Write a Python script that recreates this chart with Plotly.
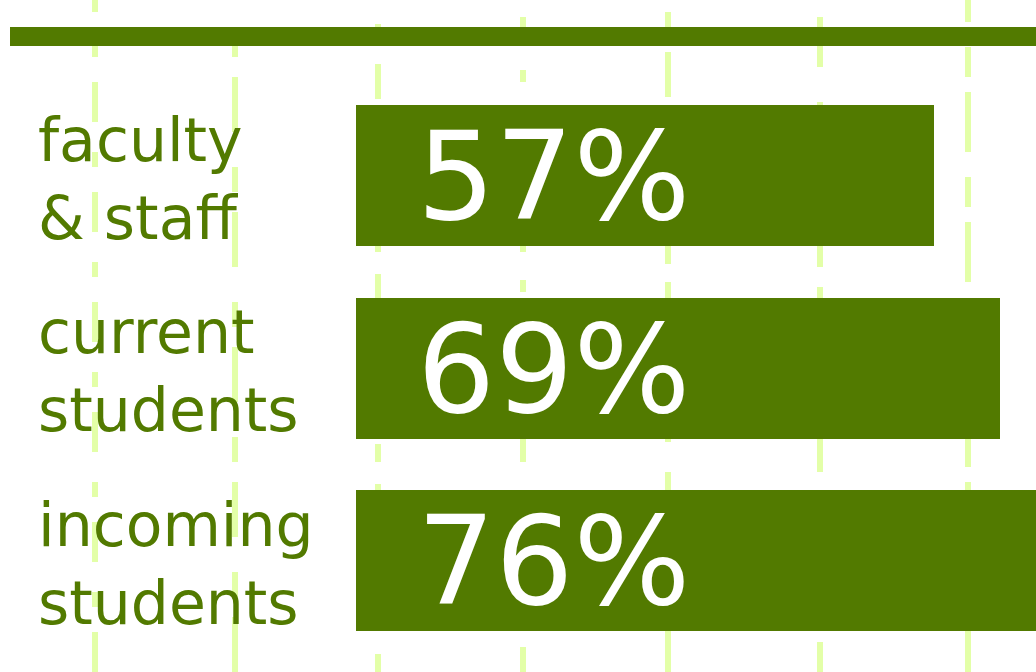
import plotly.graph_objects as go

# ---- data ----
groups = ["faculty<br>& staff", "current<br>students", "incoming<br>students"]
values = [57, 69, 76]
value_labels = ["57%", "69%", "76%"]

# ---- style ----
GREEN = "#527a00"
LIGHT = "#e3ffa8"
FONT = "DejaVu Sans"
W, H = 1036, 672
BASE = -48.1
pos = list(range(len(groups)))

fig = go.Figure()

fig.add_trace(go.Bar(
    y=pos,
    x=[v - BASE for v in values],
    base=BASE,
    orientation="h",
    width=0.7325,
    marker=dict(color=GREEN, line=dict(width=0)),
    hoverinfo="skip",
))

# decorative light-green streaks in the background
streak_x = [95, 235, 378, 523, 668, 820, 968]
patterns = ["40px,25px,15px,30px", "55px,20px,25px,35px", "18px,30px,35px,22px",
            "25px,40px,12px,28px", "45px,18px,22px,30px", "30px,35px,50px,20px",
            "60px,15px,30px,25px"]
shapes = []
for sx, pat in zip(streak_x, patterns):
    shapes.append(dict(type="line", xref="paper", yref="paper",
                       x0=sx / W, x1=sx / W, y0=0, y1=1, layer="below",
                       line=dict(color=LIGHT, width=6, dash=pat)))
# top rule
shapes.append(dict(type="rect", xref="paper", yref="paper",
                   x0=10 / W, x1=1, y0=1 - 46 / H, y1=1 - 27 / H,
                   fillcolor=GREEN, line=dict(width=0), layer="above"))

annotations = []
for p, g in zip(pos, groups):
    annotations.append(dict(x=36 / W, xref="paper", y=p, yref="y", text=g,
                            xanchor="left", yanchor="middle", align="left",
                            showarrow=False, yshift=-3,
                            font=dict(family=FONT, size=60, color=GREEN)))
for p, t in zip(pos, value_labels):
    annotations.append(dict(x=553 / W, xref="paper", y=p, yref="y", text=t,
                            xanchor="center", yanchor="middle",
                            showarrow=False, yshift=-1,
                            font=dict(family=FONT, size=123, color="white")))

fig.update_layout(
    width=W, height=H,
    margin=dict(l=0, r=0, t=0, b=0),
    paper_bgcolor="white", plot_bgcolor="white",
    showlegend=False,
    xaxis=dict(range=[-112.8, 75.6], visible=False, fixedrange=True),
    yaxis=dict(range=[2.579, -0.912], visible=False, fixedrange=True),
    shapes=shapes,
    annotations=annotations,
    bargap=0,
)

fig.write_html("out.html", config={"displayModeBar": False})
